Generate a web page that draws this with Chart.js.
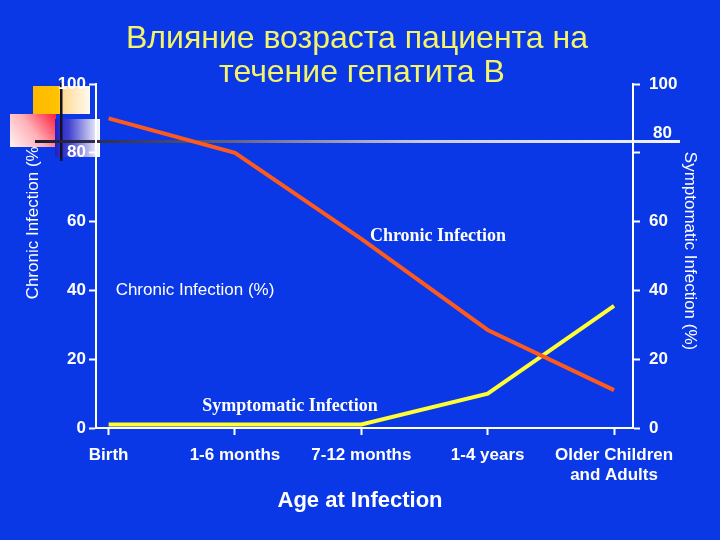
<!DOCTYPE html>
<html>
<head>
<meta charset="utf-8">
<script src="https://cdn.jsdelivr.net/npm/chart.js@4.4.1/dist/chart.umd.min.js"></script>
<style>
html,body{margin:0;padding:0;background:#0a38e6;}
#c{display:block;}
</style>
</head>
<body>
<canvas id="c" width="720" height="540"></canvas>
<script>
const categories = ["Birth", "1-6 months", "7-12 months", "1-4 years", ["Older Children", "and Adults"]];
const chronicInfection = [90, 80, 55, 28.5, 11];
const symptomaticInfection = [1, 1, 1, 10, 35.5];
const yTicks = [0, 20, 40, 60, 80, 100];
const titleLines = ["Влияние возраста пациента на", "течение гепатита В"];

const BG = '#0a38e6';
const W = '#ffffff';
const SANS = '"Liberation Sans", Arial, sans-serif';
const SERIF = '"Liberation Serif", "Times New Roman", serif';

const deco = {
  id: 'deco',
  beforeDraw(chart) {
    const ctx = chart.ctx;
    ctx.save();
    ctx.fillStyle = BG;
    ctx.fillRect(0, 0, chart.width, chart.height);
    // left axis title (drawn under the squares)
    ctx.save();
    ctx.translate(33, 220);
    ctx.rotate(-Math.PI / 2);
    ctx.fillStyle = W;
    ctx.font = '17px ' + SANS;
    ctx.textAlign = 'center';
    ctx.textBaseline = 'middle';
    ctx.fillText('Chronic Infection (%)', 0, 0);
    ctx.restore();
    // orange square
    let g = ctx.createLinearGradient(33, 0, 90, 0);
    g.addColorStop(0, '#ffb800');
    g.addColorStop(0.45, '#ffc400');
    g.addColorStop(0.5, '#ffd890');
    g.addColorStop(1, '#fffaf0');
    ctx.fillStyle = g;
    ctx.fillRect(33, 86, 57, 28);
    // pink square
    g = ctx.createLinearGradient(10, 147, 55, 114);
    g.addColorStop(0, '#fff4f4');
    g.addColorStop(0.5, '#ffb0b8');
    g.addColorStop(1, '#ff2040');
    ctx.fillStyle = g;
    ctx.fillRect(10, 114, 46, 33);
    // blue-white square
    g = ctx.createLinearGradient(55, 0, 100, 0);
    g.addColorStop(0, '#2020c0');
    g.addColorStop(0.3, '#4040d0');
    g.addColorStop(1, '#ffffff');
    ctx.fillStyle = g;
    ctx.fillRect(55, 119, 45, 38);
    // vertical black line
    ctx.fillStyle = '#111122';
    ctx.fillRect(60, 83, 2.5, 78);
    // horizontal line
    g = ctx.createLinearGradient(35, 0, 680, 0);
    g.addColorStop(0, '#1a1a30');
    g.addColorStop(0.25, '#50507a');
    g.addColorStop(0.6, '#c8c8dc');
    g.addColorStop(1, '#f4f4ff');
    ctx.fillStyle = g;
    ctx.fillRect(35, 140, 645, 3);
    ctx.restore();
  },
  afterDraw(chart) {
    const ctx = chart.ctx;
    ctx.save();
    ctx.fillStyle = '#f4f46a';
    ctx.font = '32px ' + SANS;
    ctx.textAlign = 'center';
    ctx.textBaseline = 'alphabetic';
    ctx.fillText(titleLines[0], 357, 48);
    ctx.fillText(titleLines[1], 362, 82);

    ctx.fillStyle = W;
    ctx.font = 'bold 17px ' + SANS;
    ctx.textAlign = 'left';
    ctx.textBaseline = 'middle';
    ctx.fillText('80', 653, 133);

    // right axis title
    ctx.save();
    ctx.translate(690, 251);
    ctx.rotate(Math.PI / 2);
    ctx.font = '17px ' + SANS;
    ctx.textAlign = 'center';
    ctx.fillText('Symptomatic Infection (%)', 0, 0);
    ctx.restore();

    // x axis title
    ctx.font = 'bold 22px ' + SANS;
    ctx.textAlign = 'center';
    ctx.fillText('Age at Infection', 360, 501);

    // in-plot labels
    ctx.font = 'bold 18px ' + SERIF;
    ctx.fillText('Chronic Infection', 438, 236);
    ctx.fillText('Symptomatic Infection', 290, 406);
    ctx.font = '17px ' + SANS;
    ctx.fillText('Chronic Infection (%)', 195, 290);
    ctx.restore();
  }
};

new Chart(document.getElementById('c'), {
  type: 'line',
  data: {
    datasets: [
      {
        label: 'Chronic Infection',
        data: chronicInfection.map((v, i) => ({x: i, y: v})),
        borderColor: '#ff5a1e',
        borderWidth: 4,
        pointRadius: 0,
        tension: 0,
        yAxisID: 'y'
      },
      {
        label: 'Symptomatic Infection',
        data: symptomaticInfection.map((v, i) => ({x: i, y: v})),
        borderColor: '#ffff33',
        borderWidth: 4,
        pointRadius: 0,
        tension: 0,
        yAxisID: 'y2'
      }
    ]
  },
  options: {
    responsive: false,
    animation: false,
    layout: {padding: {top: 84, left: 0, right: 0, bottom: 0}},
    plugins: {legend: {display: false}, tooltip: {enabled: false}},
    scales: {
      x: {
        type: 'linear',
        min: -0.1,
        max: 4.15,
        afterBuildTicks(s) { s.ticks = categories.map((c, i) => ({value: i})); },
        afterFit(s) { s.height = 112; },
        grid: {display: true, drawOnChartArea: false, drawTicks: true, tickLength: 7, tickWidth: 2, tickColor: W},
        border: {display: true, color: W, width: 2},
        ticks: {
          color: W,
          padding: 10,
          maxRotation: 0,
          autoSkip: false,
          font: {family: SANS, size: 17, weight: 'bold', lineHeight: 1.2},
          callback: (v) => categories[v]
        }
      },
      y: {
        position: 'left',
        min: 0, max: 100,
        afterBuildTicks(s) { s.ticks = yTicks.map(v => ({value: v})); },
        afterFit(s) { s.width = 96; },
        grid: {display: true, drawOnChartArea: false, tickLength: 7, tickWidth: 2, tickColor: W},
        border: {display: true, color: W, width: 2},
        ticks: {color: W, padding: 3, font: {family: SANS, size: 17, weight: 'bold'}}
      },
      y2: {
        position: 'right',
        min: 0, max: 100,
        afterBuildTicks(s) { s.ticks = yTicks.map(v => ({value: v})); },
        afterFit(s) { s.width = 87; },
        grid: {display: true, drawOnChartArea: false, tickLength: 7, tickWidth: 2, tickColor: W},
        border: {display: true, color: W, width: 2},
        ticks: {color: W, padding: 9, font: {family: SANS, size: 17, weight: 'bold'},
          callback: (v) => v === 80 ? '' : String(v)}
      }
    }
  },
  plugins: [deco]
});
</script>
</body>
</html>
